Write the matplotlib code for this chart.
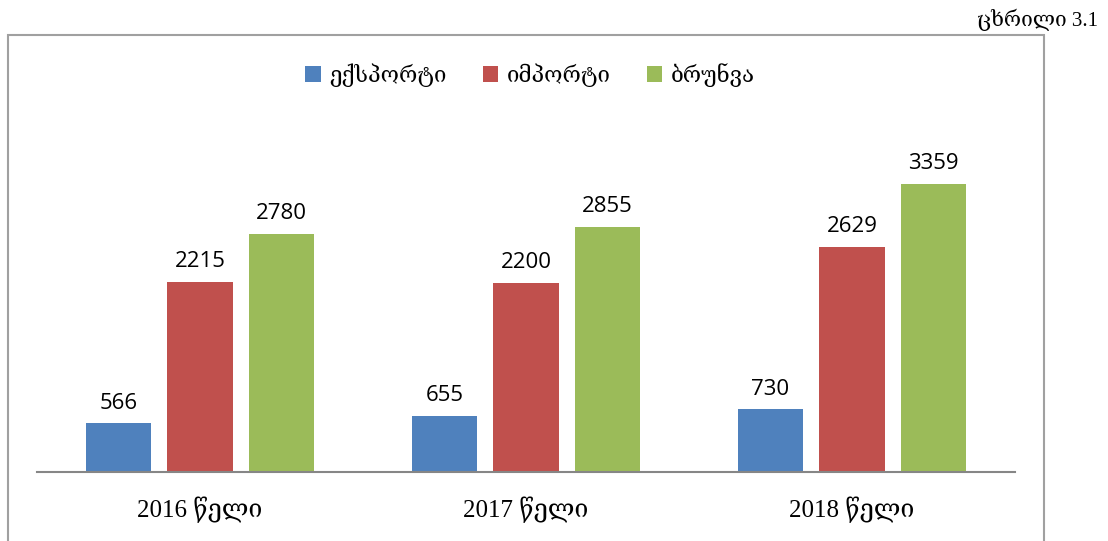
import numpy as np
import matplotlib
matplotlib.use("Agg")
import matplotlib.pyplot as plt
from matplotlib.patches import Rectangle

years = ["2016 წელი", "2017 წელი", "2018 წელი"]
series_names = ["ექსპორტი", "იმპორტი", "ბრუნვა"]
export_vals = [566, 655, 730]
import_vals = [2215, 2200, 2629]
turnover_vals = [2780, 2855, 3359]
colors = ["#4f81bd", "#c0504d", "#9bbb59"]

serif = ["Liberation Serif", "DejaVu Serif", "DejaVu Sans"]
sans = ["Open Sans", "DejaVu Sans"]

fig = plt.figure(figsize=(11.08, 5.41), dpi=100)
ax = fig.add_axes([37 / 1108, 69 / 541, 978 / 1108, 343 / 541])

x = np.arange(len(years))
w = 0.2
step = 0.25
for i, (vals, c, name) in enumerate(zip([export_vals, import_vals, turnover_vals], colors, series_names)):
    pos = x + (i - 1) * step
    ax.bar(pos, vals, width=w, color=c, label=name)
    for xp, v in zip(pos, vals):
        ax.text(xp, v + 115, str(v), ha="center", va="bottom", fontsize=16, family=sans)

ax.set_xlim(-0.5, 2.5)
ax.set_ylim(0, 4000)
ax.set_yticks([])
ax.set_xticks(x)
ax.set_xticklabels(years, fontsize=18, family=serif)
ax.tick_params(axis="x", length=0, pad=18)
for s in ["top", "right", "left"]:
    ax.spines[s].set_visible(False)
ax.spines["bottom"].set_color("#868686")
ax.spines["bottom"].set_linewidth(1.5)

fig.legend(loc="center", bbox_to_anchor=(530 / 1108, 1 - 75 / 541), ncol=3, frameon=False,
           prop={"family": serif, "size": 16}, handlelength=0.7, handleheight=0.7,
           handletextpad=0.4, columnspacing=1.6)

# outer chart border
fig.patches.append(Rectangle((8 / 1108, -0.05), (1044 - 8) / 1108, 1.05 - 35 / 541,
                             transform=fig.transFigure, fill=False, edgecolor="#a0a0a0", linewidth=1.5))

fig.text(1098 / 1108, 1 - 20 / 541, "ცხრილი 3.1", ha="right", va="center", fontsize=15, family=serif)

fig.savefig("out.png", dpi=100)
